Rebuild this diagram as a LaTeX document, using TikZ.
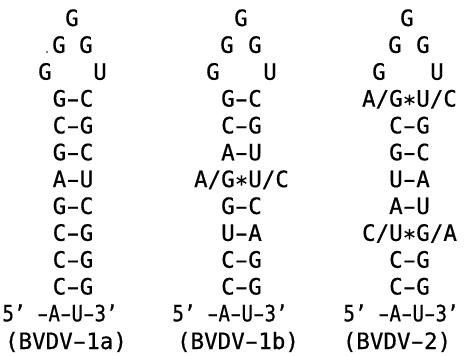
\documentclass[tikz,border=0pt]{standalone}
\usepackage{fontspec}
\setmainfont{DejaVu Sans Mono}[UprightFeatures={FakeBold=0.6}]
\newcommand{\bstar}{\raisebox{-0.22em}{*}}
\newcommand{\dsh}{\makebox[0.602em]{\scalebox{1.7}[1]{-}}}
\tikzset{
  base/.style={anchor=base, inner sep=0pt, font=\fontsize{22.5}{22.5}\selectfont},
  tail/.style={base, xscale=0.85, transform shape},
}
\begin{document}
\begin{tikzpicture}[x=1pt, y=-1pt]
\useasboundingbox (0,0) rectangle (466,356);
% row baselines: 26 + 26.85*(i-1)
% ---- column 1 ----
\node[base] (a1) at (72,26) {G};
\node[base] (a2l) at (59,52.85) {G};
\node[base] (a2r) at (86,52.85) {G};
\fill (47,52) circle (0.8) coordinate (dot);
\node[base] (a3l) at (45,79.7) {G};
\node[base] (a3r) at (100,79.7) {U};
\foreach \t [count=\i from 4] in {G\dsh C,C\dsh G,G\dsh C,A\dsh U,G\dsh C,C\dsh G,C\dsh G,C\dsh G}
  \node[base] (a\i) at (73,{26+26.85*(\i-1)}) {\t};
\node[tail] (a12) at (60,321.35) {5' \dsh A\dsh U\dsh 3'};
\node[base] (a13) at (66,349) {(BVDV\dsh 1a)};
% ---- column 2 ----
\node[base] (b1) at (241,26) {G};
\node[base] (b2l) at (227,52.85) {G};
\node[base] (b2r) at (255,52.85) {G};
\node[base] (b3l) at (213,79.7) {G};
\node[base] (b3r) at (270,79.7) {U};
\foreach \t [count=\i from 4] in {G\dsh C,C\dsh G,A\dsh U,A/G\bstar U/C,G\dsh C,U\dsh A,C\dsh G,C\dsh G}
  \node[base] (b\i) at (241.5,{26+26.85*(\i-1)}) {\t};
\node[tail] (b12) at (230,321.35) {5' \dsh A\dsh U\dsh 3'};
\node[base] (b13) at (238,349) {(BVDV\dsh 1b)};
% ---- column 3 ----
\node[base] (c1) at (407,26) {G};
\node[base] (c2l) at (395,52.85) {G};
\node[base] (c2r) at (423,52.85) {G};
\node[base] (c3l) at (379,79.7) {G};
\node[base] (c3r) at (437,79.7) {U};
\foreach \t [count=\i from 4] in {A/G\bstar U/C,C\dsh G,G\dsh C,U\dsh A,A\dsh U,C/U\bstar G/A,C\dsh G,C\dsh G}
  \node[base] (c\i) at (409.5,{26+26.85*(\i-1)}) {\t};
\node[tail] (c12) at (401,321.35) {5' \dsh A\dsh U\dsh 3'};
\node[base] (c13) at (397,349) {(BVDV\dsh 2)};
\end{tikzpicture}
\end{document}
